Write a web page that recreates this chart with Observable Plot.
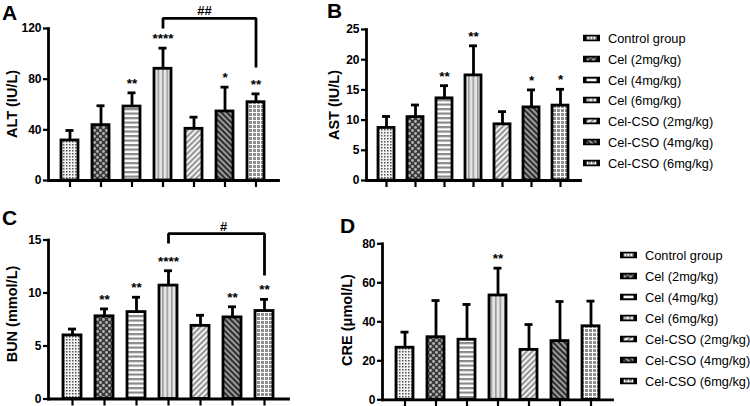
<!DOCTYPE html>
<html><head><meta charset="utf-8">
<script src="https://cdn.jsdelivr.net/npm/d3@7"></script>
<script src="https://cdn.jsdelivr.net/npm/@observablehq/plot@0.6"></script>
<style>
body{margin:0;background:#fff}
#wrap{position:relative;width:750px;height:406px;font-family:"Liberation Sans",Arial,sans-serif;overflow:hidden;background:#fff}
#wrap svg.plt{position:absolute;left:0;top:0}
.letter{position:absolute;font-weight:bold;font-size:21px;line-height:1}
.ylab{position:absolute;font-weight:bold;font-size:14.5px;white-space:nowrap;transform:translate(-50%,-50%) rotate(-90deg);line-height:1}
.legend{position:absolute;font-size:12.8px;color:#000}
.legend .row{position:absolute;left:0;white-space:nowrap;display:flex;align-items:center;transform:translateY(-50%)}
.legend .row svg{margin-right:8px}
</style></head>
<body>
<svg width="0" height="0" style="position:absolute">
<defs>
<pattern id="p0" patternUnits="userSpaceOnUse" width="3" height="3"><rect width="3" height="3" fill="#f4f4f4"/><rect width="1.5" height="1.5" fill="#555"/></pattern>
<pattern id="p1" patternUnits="userSpaceOnUse" width="6" height="6"><rect width="6" height="6" fill="#3a3a3a"/><circle cx="1.5" cy="1.5" r="1.4" fill="#b4b4b4"/><circle cx="4.5" cy="4.5" r="1.4" fill="#b4b4b4"/></pattern>
<pattern id="p2" patternUnits="userSpaceOnUse" width="4" height="4.5"><rect width="4" height="4.5" fill="#fff"/><rect width="4" height="2.2" fill="#888"/></pattern>
<pattern id="p3" patternUnits="userSpaceOnUse" width="4.5" height="4"><rect width="4.5" height="4" fill="#e4e4e4"/><rect width="1.6" height="4" fill="#9c9c9c"/></pattern>
<pattern id="p4" patternUnits="userSpaceOnUse" width="4" height="4" patternTransform="rotate(45)"><rect width="4" height="4" fill="#f2f2f2"/><rect width="1.8" height="4" fill="#8c8c8c"/></pattern>
<pattern id="p5" patternUnits="userSpaceOnUse" width="4" height="4" patternTransform="rotate(-45)"><rect width="4" height="4" fill="#9a9a9a"/><rect width="2" height="4" fill="#2e2e2e"/></pattern>
<pattern id="p6" patternUnits="userSpaceOnUse" width="4" height="4"><rect width="4" height="4" fill="#8e8e8e"/><rect width="4" height="1" fill="#fff"/><rect width="1" height="4" fill="#fff"/></pattern>
</defs>
</svg>
<div id="wrap"></div>
<script>
// ---------- data ----------
const groups = ["Control group","Cel (2mg/kg)","Cel (4mg/kg)","Cel (6mg/kg)","Cel-CSO (2mg/kg)","Cel-CSO (4mg/kg)","Cel-CSO (6mg/kg)"];

const altMean = [31.6, 43.7, 58.4, 88.2, 40.8, 54.5, 61.8];
const altSd   = [7.9, 15.3, 10.8, 16.3, 9.2, 19.2, 6.6];
const altSig  = ["", "", "**", "****", "", "*", "**"];
const altTicks = [0, 40, 80, 120];
const altBracket = ["Cel (6mg/kg)", "Cel-CSO (6mg/kg)", 120, 128, 89.2, "##", "Cel-CSO (2mg/kg)"];

const astMean = [8.7, 10.5, 13.6, 17.4, 9.3, 12.1, 12.4];
const astSd   = [1.9, 2.0, 2.1, 4.9, 2.1, 2.9, 2.7];
const astSig  = ["", "", "**", "**", "", "*", "*"];
const astTicks = [0, 5, 10, 15, 20, 25];

const bunMean = [6.0, 7.8, 8.2, 10.7, 6.9, 7.7, 8.3];
const bunSd   = [0.6, 0.7, 1.4, 1.4, 1.0, 1.0, 1.1];
const bunSig  = ["", "**", "**", "****", "", "**", "**"];
const bunTicks = [0, 5, 10, 15];
const bunBracket = ["Cel (6mg/kg)", "Cel-CSO (6mg/kg)", 14.67, 15.6, 11.65, "#", "Cel-CSO (2mg/kg)"];

const creMean = [26.7, 32.1, 30.8, 53.5, 25.6, 30.1, 37.7];
const creSd   = [8.0, 18.8, 18.1, 14.0, 13.0, 20.3, 12.9];
const creSig  = ["", "", "", "**", "", "", ""];
const creTicks = [0, 20, 40, 60, 80];

// ---------- styles / layout ----------
const fills = groups.map((_, i) => `url(#p${i})`);
const W = 750, H = 406;
const wrap = document.getElementById("wrap");

function panel(cfg, means, sds, sig, ticks, bracket) {
  const rows = groups.map((g, i) => ({group: g, mean: means[i], hi: means[i] + sds[i], sig: sig[i]}));
  const marks = [
    Plot.barY(rows, {x: "group", y: "mean", fill: "group", stroke: "black", strokeWidth: 2.8}),
    Plot.ruleX(rows, {x: "group", y1: "mean", y2: "hi", stroke: "black", strokeWidth: 2.8}),
    Plot.tickY(rows, {x: "group", y: "hi", stroke: "black", strokeWidth: 2.8, insetLeft: cfg.cap, insetRight: cfg.cap}),
    Plot.text(rows, {x: "group", y: "hi", text: "sig", lineAnchor: "bottom", dy: -5, fontSize: 13.5, fontWeight: "bold"}),
    Plot.frame({anchor: "left", stroke: "black", strokeWidth: 2.8}),
    Plot.frame({anchor: "bottom", stroke: "black", strokeWidth: 2.8}),
    Plot.axisY({ticks: ticks, tickSize: 5, tickPadding: 2, strokeWidth: 2.2, fontWeight: "bold", fontSize: 12, label: null}),
    Plot.axisX({tickSize: 7, strokeWidth: 2.2, tickFormat: () => "", label: null})
  ];
  if (bracket) {
    const [from, to, fromEnd, top, toEnd, label, labelAt] = bracket;
    const pts = [{x: from, y: fromEnd}, {x: from, y: top}, {x: to, y: top}, {x: to, y: toEnd}];
    marks.push(Plot.line(pts, {x: "x", y: "y", stroke: "black", strokeWidth: 2.8, strokeLinejoin: "miter", strokeLinecap: "butt"}));
    marks.push(Plot.text([{x: labelAt, y: top, t: label}], {x: "x", y: "y", text: "t", lineAnchor: "bottom", dy: -3, dx: cfg.labelDx, fontSize: 13, fontWeight: "bold", letterSpacing: "2px"}));
  }
  const svg = Plot.plot({
    width: W, height: H,
    marginLeft: cfg.L, marginRight: W - cfg.R, marginTop: cfg.T, marginBottom: H - cfg.B,
    x: {domain: groups, range: cfg.xr, paddingInner: 0.44, paddingOuter: 0.22, axis: null},
    y: {domain: [0, ticks[ticks.length - 1]], axis: null},
    color: {type: "ordinal", domain: groups, range: fills},
    style: {background: "transparent", fontFamily: "'Liberation Sans', Arial, sans-serif", fontSize: "12px", fontWeight: "bold", color: "black", overflow: "visible"},
    marks
  });
  svg.classList.add("plt");
  wrap.appendChild(svg);
}

panel({L: 48, R: 278, T: 28, B: 180, xr: [53.3, 272.7], cap: 4.5, labelDx: 10.5}, altMean, altSd, altSig, altTicks, altBracket);
panel({L: 366, R: 580, T: 29, B: 180, xr: [371.5, 575], cap: 4}, astMean, astSd, astSig, astTicks, null);
panel({L: 48, R: 288, T: 239.5, B: 398.5, xr: [52.5, 283], cap: 5, labelDx: 23}, bunMean, bunSd, bunSig, bunTicks, bunBracket);
panel({L: 382, R: 612, T: 243.3, B: 399.3, xr: [387, 607.8], cap: 4.5}, creMean, creSd, creSig, creTicks, null);

// ---------- text: letters, axis titles, legends ----------
function addDiv(cls, text, css) {
  const d = document.createElement("div");
  d.className = cls; d.textContent = text;
  Object.assign(d.style, css);
  wrap.appendChild(d);
  return d;
}
addDiv("letter", "A", {left: "2px", top: "2px"});
addDiv("letter", "B", {left: "327px", top: "0px"});
addDiv("letter", "C", {left: "2px", top: "207px"});
addDiv("letter", "D", {left: "340px", top: "215px"});
addDiv("ylab", "ALT (IU/L)", {left: "12px", top: "104px"});
addDiv("ylab", "AST (IU/L)", {left: "334px", top: "105px"});
addDiv("ylab", "BUN (mmol/L)", {left: "12px", top: "314px"});
addDiv("ylab", "CRE (μmol/L)", {left: "347px", top: "320px"});

function legend(left, top, step) {
  const lg = document.createElement("div");
  lg.className = "legend";
  lg.style.left = left + "px"; lg.style.top = top + "px";
  groups.forEach((g, i) => {
    const row = document.createElement("div");
    row.className = "row";
    row.style.top = (i * step) + "px";
    row.innerHTML = `<svg width="17" height="7"><rect width="17" height="7" fill="#000"/><rect x="3.5" y="2" width="10" height="3" fill="${fills[i]}"/></svg><span>${g}</span>`;
    lg.appendChild(row);
  });
  wrap.appendChild(lg);
}
legend(583, 38, 20.75);
legend(620, 254.5, 21.1);
</script>
</body></html>
